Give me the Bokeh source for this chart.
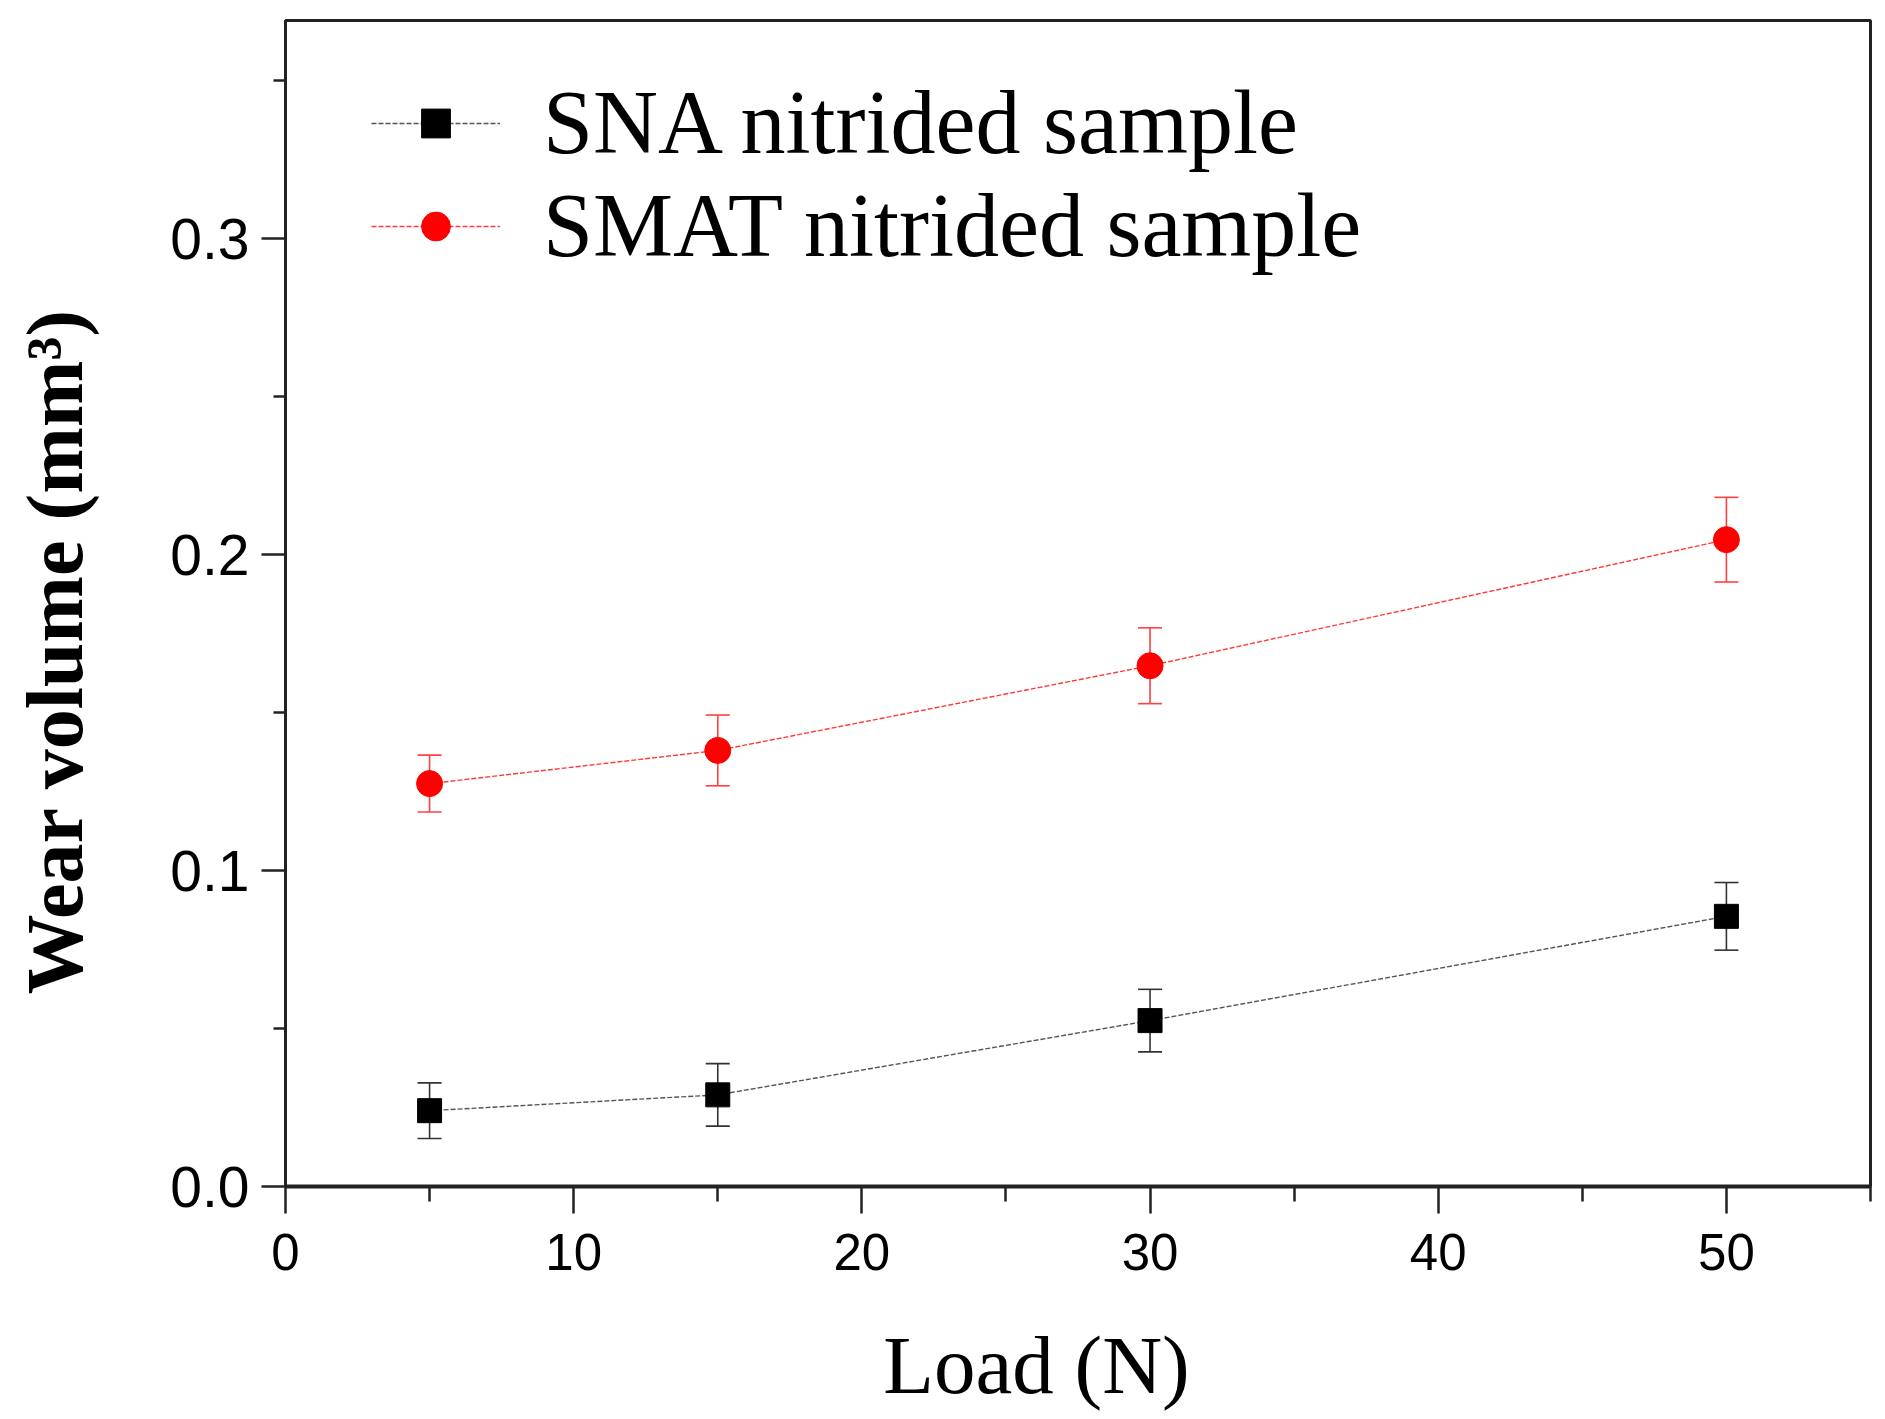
from bokeh.plotting import figure
from bokeh.models import (Range1d, Whisker, ColumnDataSource, Legend, LegendItem,
                          TeeHead, FixedTicker, NumeralTickFormatter)
from bokeh.embed import file_html
from bokeh.resources import INLINE

# ---- data ----
load = [5, 15, 30, 50]
sna = [0.024, 0.029, 0.0525, 0.0855]
sna_err = [0.0088, 0.0099, 0.0099, 0.0107]
smat = [0.1275, 0.138, 0.1648, 0.2047]
smat_err = [0.0090, 0.0112, 0.0120, 0.0134]
series_names = ["SNA nitrided sample", "SMAT nitrided sample"]
x_ticks = [0, 10, 20, 30, 40, 50]
x_minor = [5, 15, 25, 35, 45, 55]
y_ticks = [0.0, 0.1, 0.2, 0.3]
y_minor = [0.05, 0.15, 0.25, 0.35]
x_title = "Load (N)"
y_title = "Wear volume (mm\u00b3)"

src_sna = ColumnDataSource(dict(x=load, y=sna,
                                upper=[v + e for v, e in zip(sna, sna_err)],
                                lower=[v - e for v, e in zip(sna, sna_err)]))
src_smat = ColumnDataSource(dict(x=load, y=smat,
                                 upper=[v + e for v, e in zip(smat, smat_err)],
                                 lower=[v - e for v, e in zip(smat, smat_err)]))

p = figure(width=1873, height=1414, output_backend="svg", toolbar_location=None,
           x_range=Range1d(0, 55), y_range=Range1d(0, 0.369),
           min_border_left=285, min_border_top=20, min_border_right=3, min_border_bottom=228)
p.background_fill_color = "white"
p.border_fill_color = "white"
p.grid.visible = False
p.outline_line_color = "#222222"
p.outline_line_width = 3

# lines
l_sna = p.line("x", "y", source=src_sna, line_color="#555555", line_width=1.4, line_dash="5 2")
l_smat = p.line("x", "y", source=src_smat, line_color="#ff3a3a", line_width=1.4, line_dash="5 2")

# error bars
for src, col in ((src_sna, "#333333"), (src_smat, "#ff4040")):
    w = Whisker(base="x", upper="upper", lower="lower", source=src,
                line_color=col, line_width=1.6,
                upper_head=TeeHead(size=24, line_color=col, line_width=1.6),
                lower_head=TeeHead(size=24, line_color=col, line_width=1.6))
    p.add_layout(w)

s_sna = p.scatter("x", "y", source=src_sna, marker="square", size=24,
                  fill_color="black", line_color="black")
s_smat = p.scatter("x", "y", source=src_smat, marker="circle", size=26,
                   fill_color="#ff0000", line_color="#ff0000")

# axes
p.xaxis.ticker = FixedTicker(ticks=x_ticks, minor_ticks=x_minor)
p.yaxis.ticker = FixedTicker(ticks=y_ticks, minor_ticks=y_minor)
p.yaxis.formatter = NumeralTickFormatter(format="0.0")
for ax in (p.xaxis[0], p.yaxis[0]):
    ax.axis_line_color = "#222222"
    ax.major_tick_line_color = "#222222"
    ax.minor_tick_line_color = "#222222"
    ax.major_tick_line_width = 2.5
    ax.minor_tick_line_width = 2.5
    ax.major_tick_in = 0
    ax.minor_tick_in = 0
    ax.major_label_text_font = "Liberation Sans"
    ax.major_label_text_color = "black"
    ax.axis_label_text_font = "Liberation Serif"
    ax.axis_label_text_color = "black"
p.xaxis.major_label_text_font_size = "51px"
p.yaxis.major_label_text_font_size = "57px"
p.xaxis.axis_line_width = 4
p.yaxis.axis_line_width = 3
p.xaxis.major_tick_out = 27
p.xaxis.minor_tick_out = 15
p.yaxis.major_tick_out = 24
p.yaxis.minor_tick_out = 12
p.xaxis.major_label_standoff = 20
p.yaxis.major_label_standoff = 12

# axis titles (trailing em-spaces shift the centred text like in the original)
p.xaxis.axis_label = x_title + "\u2003"
p.yaxis.axis_label = y_title + "\u2003\u2009"
p.xaxis.axis_label_text_font_size = "83px"
p.xaxis.axis_label_text_font_style = "normal"
p.yaxis.axis_label_text_font_size = "80px"
p.yaxis.axis_label_text_font_style = "bold"
p.xaxis.axis_label_standoff = 46
p.yaxis.axis_label_standoff = 68

legend = Legend(items=[LegendItem(label=series_names[0], renderers=[l_sna, s_sna]),
                       LegendItem(label=series_names[1], renderers=[l_smat, s_smat])],
                location=(86, 909), orientation="vertical",
                border_line_color=None, background_fill_alpha=0,
                label_text_font="Liberation Serif", label_text_font_size="90px",
                label_text_color="black",
                glyph_width=129, glyph_height=72, label_height=55,
                label_standoff=43, padding=0, spacing=0, margin=0)
p.add_layout(legend)

open("out.html", "w").write(file_html(p, INLINE))
